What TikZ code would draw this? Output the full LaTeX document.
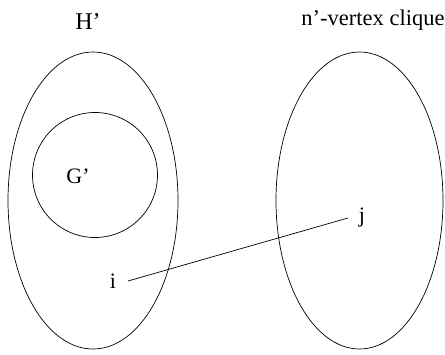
\documentclass[tikz,border=0pt]{standalone}
\usepackage{fontspec}
\setmainfont{Liberation Serif}
\begin{document}
\begin{tikzpicture}[x=1pt,y=-1pt,
  shapeline/.style={draw=black,line width=0.7pt},
  lbl/.style={inner sep=0pt,font=\fontsize{22}{25}\selectfont}]
\useasboundingbox (0,0) rectangle (445,354);
\draw[shapeline] (93,200.5) ellipse [x radius=85, y radius=148.5];
\draw[shapeline] (359.5,200.5) ellipse [x radius=83.5, y radius=148.5];
\draw[shapeline] (95,175) circle [radius=62.5];
\node[lbl,font=\fontsize{24}{27}\selectfont] (H) at (88,22) {H’};
\node[lbl,font=\fontsize{22.5}{25}\selectfont] (C) at (373,20) {n’-vertex clique};
\node[lbl] (G) at (78,176) {G’};
\node[lbl] (i) at (113,281) {i};
\node[lbl] (j) at (362,218) {j};
\coordinate (ie) at (128,281);
\coordinate (je) at (348,218);
\draw[shapeline] (ie) -- (je);
\end{tikzpicture}
\end{document}
